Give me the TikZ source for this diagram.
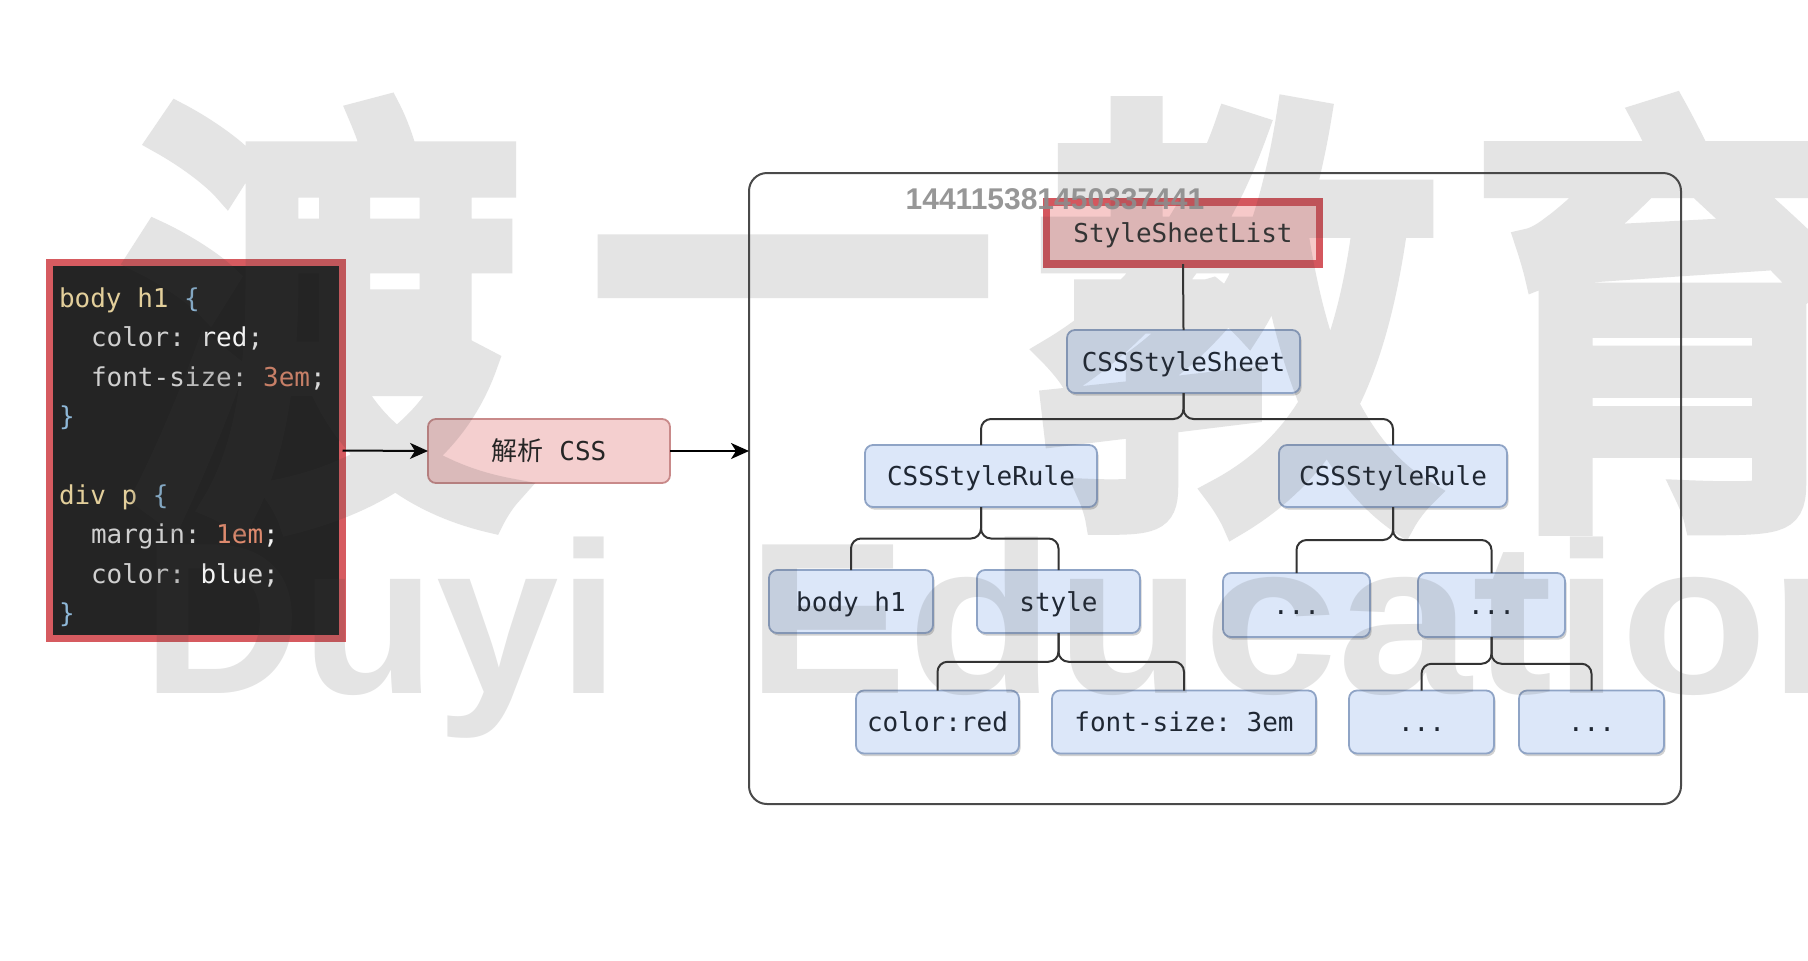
\documentclass[tikz,border=0pt]{standalone}
\usepackage{fontspec}
\usetikzlibrary{arrows.meta,calc,shadows}
\newfontfamily\monof{DejaVu Sans Mono}
\newfontfamily\cjkf{Noto Sans CJK SC}
\newfontfamily\wmcjk[FakeBold=6]{Noto Sans CJK SC}
\newfontfamily\wmlat{Liberation Sans}
\frenchspacing
\definecolor{bfill}{HTML}{DCE7F9}
\definecolor{bdraw}{HTML}{8FA4C6}
\definecolor{btext}{HTML}{1F2733}
\definecolor{pfill}{HTML}{F4CFCF}
\definecolor{pdraw}{HTML}{C98A8A}
\definecolor{sfill}{HTML}{F6C9C9}
\definecolor{sdraw}{HTML}{D4575E}
\definecolor{codebg}{HTML}{242424}
\definecolor{codeborder}{HTML}{D65B60}
\definecolor{csel}{HTML}{E3CF9B}
\definecolor{cbrace}{HTML}{8FB8D8}
\definecolor{cprop}{HTML}{CFCFCF}
\definecolor{cval}{HTML}{F4F4F4}
\definecolor{cnum}{HTML}{DE8A6E}
\definecolor{conncol}{HTML}{333333}
\definecolor{contcol}{HTML}{4A4A4A}
\begin{document}
\begin{tikzpicture}[x=0.5pt,y=-0.5pt,
  treebox/.style={draw=bdraw, fill=bfill, line width=0.9pt, rounded corners=4pt,
    inner sep=0pt, outer sep=0pt, text=btext,
    font=\monof\frenchspacing\fontsize{13pt}{15pt}\selectfont, text height=9.5pt, text depth=0pt,
    drop shadow={shadow xshift=0.8pt, shadow yshift=-1.3pt, fill=black, opacity=0.18}},
  codeline/.style={anchor=mid west, inner sep=0pt, outer sep=0pt,
    font=\monof\frenchspacing\fontsize{13pt}{15pt}\selectfont},
  conn/.style={draw=conncol, line width=1pt, rounded corners=5pt},
  arr/.style={draw=black, line width=1pt, -{Stealth[length=9pt,width=8pt,inset=2.5pt]}},
  wmc/.style={anchor=base, inner sep=0pt, text=black!75, yscale=1.12,
    font=\wmcjk\fontsize{200pt}{200pt}\selectfont},
  wml/.style={anchor=base west, inner sep=0pt, text=black!75,
    font=\wmlat\bfseries\fontsize{108pt}{108pt}\selectfont}]
\useasboundingbox (0,0) rectangle (1808,960);
\fill[white] (0,0) rectangle (1808,960);

% code block
\node[draw=codeborder, fill=codebg, line width=3.5pt, inner sep=0pt, outer sep=0pt,
  minimum width=146.5pt, minimum height=188pt] (code) at (196,450.5) {};
\node[codeline] (l1) at (59,303) {{\color{csel}body h1} {\color{cbrace}\{}};
\node[codeline] (l2) at (91,342.5) {{\color{cprop}color:} {\color{cval}red;}};
\node[codeline] (l3) at (91,382) {{\color{cprop}font-size:} {\color{cnum}3em}{\color{cval};}};
\node[codeline] (l4) at (59,421) {{\color{cbrace}\}}};
\node[codeline] (l6) at (59,500) {{\color{csel}div p} {\color{cbrace}\{}};
\node[codeline] (l7) at (91,539) {{\color{cprop}margin:} {\color{cnum}1em}{\color{cval};}};
\node[codeline] (l8) at (91,579) {{\color{cprop}color:} {\color{cval}blue;}};
\node[codeline] (l9) at (59,618) {{\color{cbrace}\}}};

% parse node
\node[draw=pdraw, fill=pfill, line width=0.9pt, rounded corners=4pt, inner sep=0pt,
  outer sep=0pt, minimum width=121pt, minimum height=32pt, text=black!85,
  font=\monof\frenchspacing\fontsize{13pt}{15pt}\selectfont] (parse) at (549,451) {{\cjkf 解析} CSS};

% container
\node[draw=contcol, fill=white, line width=1pt, rounded corners=9pt, inner sep=0pt,
  outer sep=0pt, minimum width=466pt, minimum height=315.5pt] (cont) at (1215,488.5) {};

\draw[arr] (code.east) -- (parse.west);
\draw[arr] (parse.east) -- (parse.east -| cont.west);

% tree
\node[draw=sdraw, fill=sfill, line width=3.6pt, inner sep=0pt, outer sep=0pt,
  minimum width=136.5pt, minimum height=31pt, text=black!80,
  font=\monof\fontsize{13pt}{15pt}\selectfont, text height=9.5pt, text depth=0pt]
  (ssl) at (1183,233) {StyleSheetList};
\node[treebox, minimum width=116.5pt, minimum height=31.5pt] (sheet) at (1183.5,361.5) {CSSStyleSheet};
\node[treebox, minimum width=116pt, minimum height=31pt] (ruleL) at (981,476) {CSSStyleRule};
\node[treebox, minimum width=114pt, minimum height=31pt] (ruleR) at (1393,476) {CSSStyleRule};
\node[treebox, minimum width=82pt, minimum height=31.5pt] (bh1) at (851,601.5) {body h1};
\node[treebox, minimum width=81.5pt, minimum height=31.5pt] (sty) at (1058.5,601.5) {style};
\node[treebox, minimum width=73.5pt, minimum height=32pt] (d1) at (1296.5,605) {...};
\node[treebox, minimum width=73.5pt, minimum height=32pt] (d2) at (1491.5,605) {...};
\node[treebox, minimum width=81.5pt, minimum height=31.5pt] (cred) at (937.5,722) {color:red};
\node[treebox, minimum width=132pt, minimum height=31.5pt] (fsz) at (1184,722) {font-size: 3em};
\node[treebox, minimum width=72.5pt, minimum height=31.5pt] (d3) at (1421.5,722) {...};
\node[treebox, minimum width=72.5pt, minimum height=31.5pt] (d4) at (1591.5,722) {...};

\draw[conn] (ssl.south) -- (sheet.north);
\coordinate (j1) at ($(sheet.south)!0.5!(sheet.south |- ruleL.north)$);
\draw[conn] (sheet.south) -- (j1) -| (ruleL.north);
\draw[conn] (sheet.south) -- (j1) -| (ruleR.north);
\coordinate (j2) at ($(ruleL.south)!0.5!(ruleL.south |- bh1.north)$);
\draw[conn] (ruleL.south) -- (j2) -| (bh1.north);
\draw[conn] (ruleL.south) -- (j2) -| (sty.north);
\coordinate (j3) at ($(ruleR.south)!0.5!(ruleR.south |- d1.north)$);
\draw[conn] (ruleR.south) -- (j3) -| (d1.north);
\draw[conn] (ruleR.south) -- (j3) -| (d2.north);
\coordinate (j4) at ($(sty.south)!0.5!(sty.south |- cred.north)$);
\draw[conn] (sty.south) -- (j4) -| (cred.north);
\draw[conn] (sty.south) -- (j4) -| (fsz.north);
\coordinate (j5) at ($(d2.south)!0.5!(d2.south |- d3.north)$);
\draw[conn] (d2.south) -- (j5) -| (d3.north);
\draw[conn] (d2.south) -- (j5) -| (d4.north);

% watermark
\begin{scope}[transparency group, opacity=0.14]
\node[wmc] (w1) at (324,486) {渡};
\node[wmc] (w2) at (792,441) {一};
\node[wmc] (w3) at (1237,486) {教};
\node[wmc] (w4) at (1671,486) {育};
\node[wml, xscale=1.02] (w5) at (142,693) {Duyi};
\node[wml, xscale=1.12] (w6) at (746,693) {Education};
\end{scope}

\node[inner sep=0pt, text=black!45, opacity=0.9,
  font=\wmlat\bfseries\fontsize{15pt}{15pt}\selectfont] (num) at (1055,199) {144115381450337441};
\end{tikzpicture}
\end{document}
